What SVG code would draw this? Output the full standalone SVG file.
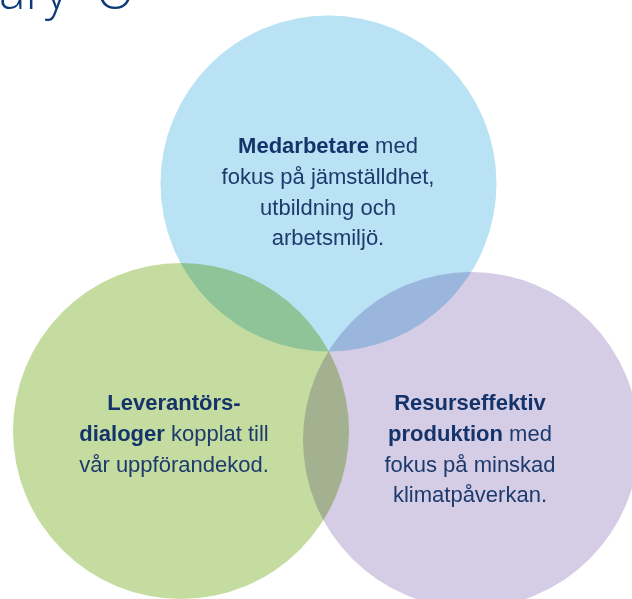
<svg xmlns="http://www.w3.org/2000/svg" width="632" height="599" viewBox="0 0 632 599">
<style>
.c{mix-blend-mode:multiply}
.t{font-family:"Liberation Sans",Arial,sans-serif;font-size:22px;fill:#1c3a6c;text-anchor:middle}
.b{font-weight:bold;fill:#14336a}
.h{font-family:"Open Sans","Liberation Sans",sans-serif;font-weight:300;font-size:50px;fill:#0f3a78}
</style>
<rect width="632" height="599" fill="#ffffff"/>
<g id="heading">
<text class="h" x="68" y="9" text-anchor="end">ary</text>
<text class="h" x="115" y="9" text-anchor="middle">O</text>
</g>
<g id="circles" style="isolation:isolate">
<g id="medarbetare">
<circle class="c" cx="328.5" cy="183.5" r="168" fill="#b9e3f4"/>
</g>
<g id="leverantor">
<circle class="c" cx="181" cy="431" r="168" fill="#c5dca0"/>
</g>
<g id="resurs">
<circle class="c" cx="471" cy="440" r="168" fill="#d5cde6"/>
</g>
</g>
<g id="labels">
<text class="t" x="328" y="153"><tspan class="b">Medarbetare</tspan> med</text>
<text class="t" x="328" y="184">fokus på jämställdhet,</text>
<text class="t" x="328" y="215">utbildning och</text>
<text class="t" x="328" y="245">arbetsmiljö.</text>
<text class="t" x="174" y="410"><tspan class="b">Leverantörs-</tspan></text>
<text class="t" x="174" y="441"><tspan class="b">dialoger</tspan> kopplat till</text>
<text class="t" x="174" y="472">vår uppförandekod.</text>
<text class="t" x="470" y="410"><tspan class="b">Resurseffektiv</tspan></text>
<text class="t" x="470" y="441"><tspan class="b">produktion</tspan> med</text>
<text class="t" x="470" y="472">fokus på minskad</text>
<text class="t" x="470" y="502">klimatpåverkan.</text>
</g>
</svg>
